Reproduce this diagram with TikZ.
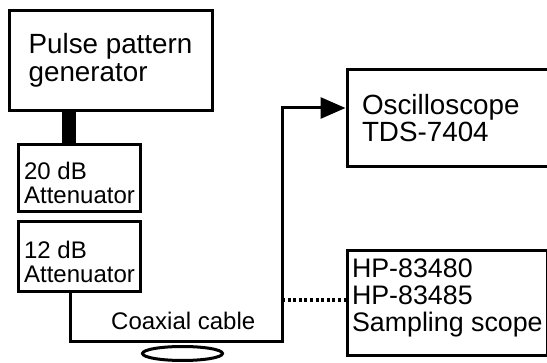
\documentclass[tikz,border=0pt]{standalone}
\usepackage{fontspec}
\setmainfont{Liberation Sans}
\usetikzlibrary{arrows.meta}

\begin{document}
\begin{tikzpicture}[x=1pt,y=-1pt,
    unit/.style={draw,line width=3pt,inner sep=0pt,align=left},
    big/.style={font=\fontsize{27.8}{27.5}\selectfont},
    small/.style={font=\fontsize{24}{24}\selectfont},
    wire/.style={line width=3pt}]
  \useasboundingbox (0,0) rectangle (547,363);
  \node[unit,big,minimum width=203pt,minimum height=100pt] (ppg) at (110.5,60.5) {Pulse pattern\\generator};
  \node[unit,small,minimum width=122pt,minimum height=67pt] (att20) at (79.5,178) {\rule{0pt}{28pt}20 dB\\Attenuator};
  \node[unit,small,minimum width=122pt,minimum height=70pt] (att12) at (79.5,256.5) {\rule{0pt}{28pt}12 dB\\Attenuator};
  \node[unit,big,anchor=west,text width=200pt,inner xsep=15pt,minimum height=97pt] (osc) at (345.5,118) {Oscilloscope\\TDS-7404};
  \node[unit,font=\fontsize{26.8}{27}\selectfont,anchor=west,inner xsep=5pt,minimum height=105pt] (hp) at (345.5,303)
    {HP-83480\\HP-83485\\Sampling scope\rule[-15pt]{0pt}{0pt}};
  \node[small,anchor=base west,inner sep=0pt] (coax) at (111,330) {Coaxial cable};
  % cable route
  \coordinate (feed) at (69,0);
  \coordinate (cabL) at (70,342);
  \coordinate (cabR) at (282,342);
  \coordinate (cabT) at (282,108);
  \coordinate (dotL) at (282,300);
  \coordinate (coil) at (182.5,353.5);
  \draw[line width=14pt] (ppg.south -| feed) -- (att20.north -| feed);
  \draw[wire,-{Triangle[length=25pt,width=21pt]}] (att12.south -| cabL) -- (cabL) -- (cabR) -- (cabT) -- (cabT -| osc.west);
  \draw[line width=4pt,dash pattern=on 3pt off 2.6pt] (dotL) -- (dotL -| hp.west);
  \draw[wire] (coil) ellipse [x radius=40pt,y radius=7pt];
\end{tikzpicture}
\end{document}
